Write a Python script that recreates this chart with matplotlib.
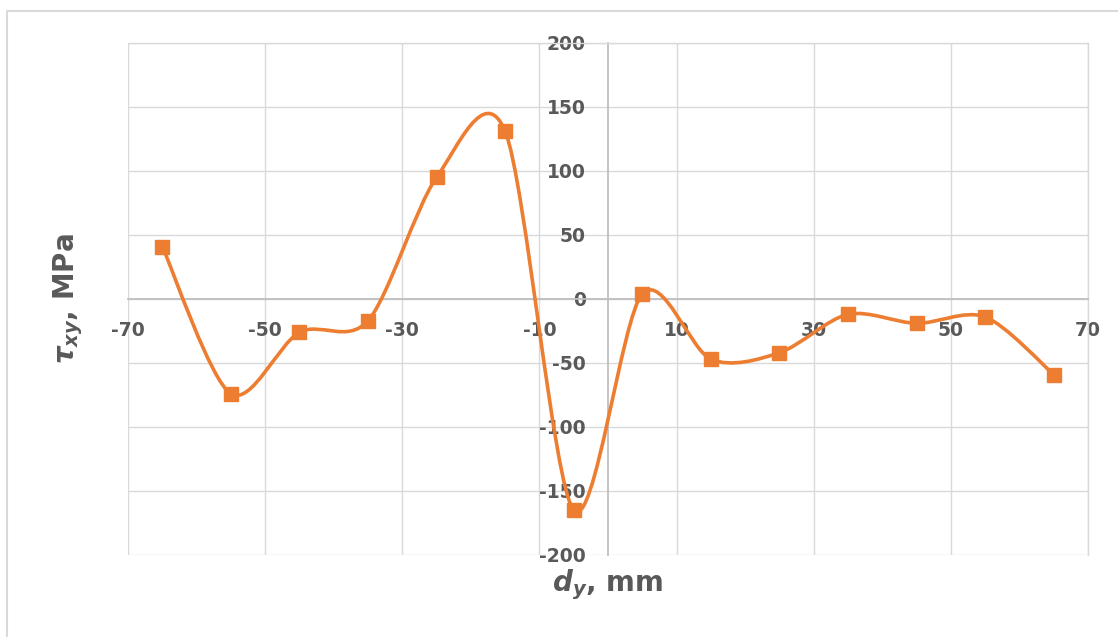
import numpy as np
import matplotlib
matplotlib.use('Agg')
import matplotlib.pyplot as plt
from matplotlib.path import Path
from matplotlib.patches import PathPatch
from matplotlib.lines import Line2D

plt.rcParams['axes.unicode_minus'] = False

# data
dy_mm = [-65, -55, -45, -35, -25, -15, -5, 5, 15, 25, 35, 45, 55, 65]
tau_xy = [41, -74, -26, -17, 95, 131, -165, 4, -47, -42, -12, -19, -14, -59]

x_ticks = [-70, -50, -30, -10, 10, 30, 50, 70]
y_ticks = [-200, -150, -100, -50, 0, 50, 100, 150, 200]

ORANGE = '#ED7D31'
TEXT = '#595959'
GRID = '#d9d9d9'
AXIS = '#bfbfbf'


def smooth_path(xs, ys, k=1 / 6):
    """Bezier path through the points, like Excel's smoothed line."""
    pts = np.column_stack([xs, ys]).astype(float)
    n = len(pts)
    verts = [pts[0]]
    codes = [Path.MOVETO]
    for i in range(n - 1):
        p0 = pts[max(i - 1, 0)]
        p1, p2 = pts[i], pts[i + 1]
        p3 = pts[min(i + 2, n - 1)]
        verts += [p1 + (p2 - p0) * k, p2 - (p3 - p1) * k, p2]
        codes += [Path.CURVE4] * 3
    return Path(verts, codes)


W, H = 1118, 637
fig = plt.figure(figsize=(W / 100, H / 100), dpi=100)
ax = fig.add_axes([128 / W, (H - 555) / H, 960 / W, 512 / H])

ax.set_xlim(-70, 70)
ax.set_ylim(-200, 200)
ax.set_xticks(x_ticks)
ax.set_yticks(y_ticks)
ax.grid(True, color=GRID, linewidth=1.0)
ax.set_axisbelow(True)

for side in ('top', 'right'):
    ax.spines[side].set_color(GRID)
    ax.spines[side].set_linewidth(1.0)
for side in ('left', 'bottom'):
    ax.spines[side].set_position(('data', 0))
    ax.spines[side].set_color(AXIS)
    ax.spines[side].set_linewidth(1.3)

ax.tick_params(length=0, pad=16, labelsize=13.5, labelcolor=TEXT)
for lab in ax.get_xticklabels() + ax.get_yticklabels():
    lab.set_fontweight('bold')

ax.add_patch(PathPatch(smooth_path(dy_mm, tau_xy, k=0.15), fill=False,
                       edgecolor=ORANGE, linewidth=2.6, zorder=3,
                       capstyle='round', joinstyle='round'))
ax.plot(dy_mm, tau_xy, linestyle='none', marker='s', markersize=10.5,
        color=ORANGE, zorder=4, clip_on=False)

# axis titles
fig.text(608 / W, 1 - 585 / H, r'$\mathbfit{d}_{\mathbfit{y}}$, mm',
         ha='center', va='center', fontsize=20, fontweight='bold', color=TEXT)
fig.text(68 / W, 1 - 299 / H, r'$\mathbfit{\tau}_{\mathbfit{xy}}$, MPa',
         ha='center', va='center', rotation=90, fontsize=20,
         fontweight='bold', color=TEXT)

# chart area border (only top and left visible)
fig.add_artist(Line2D([7 / W, 7 / W, 1], [0, 1 - 11 / H, 1 - 11 / H],
                      transform=fig.transFigure, color=GRID, linewidth=1.5))

fig.savefig('out.png', dpi=100)
